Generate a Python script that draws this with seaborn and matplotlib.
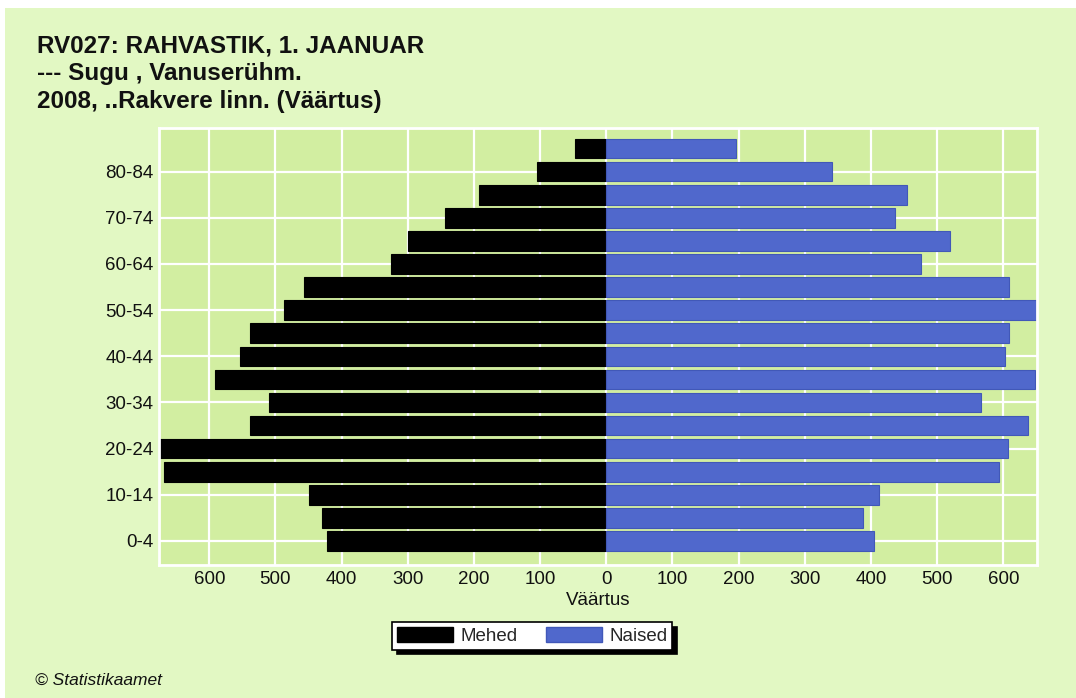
import pandas as pd
import matplotlib.pyplot as plt
from matplotlib.patches import Rectangle, Patch
import seaborn as sns

# --- andmed (loetud pildilt) ---
vanuserühmad = ['0-4', '5-9', '10-14', '15-19', '20-24', '25-29', '30-34', '35-39',
                '40-44', '45-49', '50-54', '55-59', '60-64', '65-69', '70-74',
                '75-79', '80-84', '85+']
mehed = [422, 430, 449, 668, 676, 539, 509, 591, 553, 539, 487, 457, 326, 299,
         244, 192, 104, 47]
naised = [405, 388, 412, 593, 607, 637, 566, 648, 602, 609, 651, 609, 475, 519,
          437, 454, 341, 196]
sildid = ['0-4', '10-14', '20-24', '30-34', '40-44', '50-54', '60-64', '70-74', '80-84']
x_tikid = [-600, -500, -400, -300, -200, -100, 0, 100, 200, 300, 400, 500, 600]

pealkiri = "RV027: RAHVASTIK, 1. JAANUAR\n--- Sugu , Vanuserühm.\n2008, ..Rakvere linn. (Väärtus)"

VARV_TAUST = '#e2f8c3'
VARV_ALA = '#d2eea1'
VARV_MEHED = '#000000'
VARV_NAISED = '#5068cc'

df = pd.DataFrame({
    'vanus': vanuserühmad * 2,
    'sugu': ['Mehed'] * len(mehed) + ['Naised'] * len(naised),
    'väärtus': [-v for v in mehed] + naised,
})

sns.set_theme(style="white")
plt.rcParams['font.family'] = ['Liberation Sans', 'DejaVu Sans']

fig = plt.figure(figsize=(10.76, 6.98), dpi=100, facecolor='white')
# heleroheline paneel
fig.patches.append(Rectangle((5 / 1076, 0), 1, 1 - 8 / 698, transform=fig.transFigure,
                             facecolor=VARV_TAUST, edgecolor='none', zorder=-10))

ax = fig.add_axes([159 / 1076, 1 - 565 / 698, (1037 - 159) / 1076, (565 - 128) / 698])
ax.set_facecolor(VARV_ALA)

jarjekord = vanuserühmad[::-1]  # 85+ üleval
sns.barplot(data=df, x='väärtus', y='vanus', hue='sugu', order=jarjekord,
            hue_order=['Mehed', 'Naised'],
            palette={'Mehed': VARV_MEHED, 'Naised': VARV_NAISED}, saturation=1,
            dodge=False, width=0.85, orient='h', errorbar=None, legend=False, ax=ax)

servad = {0: '#000000', 1: '#4158b8'}
for i, cont in enumerate(ax.containers):
    for bar in cont:
        bar.set_edgecolor(servad[i])
        bar.set_linewidth(0.8)

n = len(vanuserühmad)
ax.set_ylim(n - 1 + 1.04, -0.89)
ax.set_xlim(-max(mehed), max(naised))

ax.set_yticks([jarjekord.index(s) for s in sildid])
ax.set_yticklabels(sildid)
ax.set_xticks(x_tikid)
ax.set_xticklabels([str(abs(v)) for v in x_tikid])
ax.tick_params(axis='both', labelsize=13.5, length=0, pad=4, colors='#111111')

ax.grid(True, color='white', linewidth=1.6)
ax.set_axisbelow(True)
for s in ax.spines.values():
    s.set_color('white')
    s.set_linewidth(2)

ax.set_ylabel('')
ax.set_xlabel('Väärtus', fontsize=13.5, color='#111111', labelpad=3)

fig.text(37 / 1076, 1 - 34 / 698, pealkiri, fontsize=17.5, fontweight='bold',
         va='top', ha='left', linespacing=1.27, color='#111111')

kasitsejad = [Patch(facecolor=VARV_MEHED, edgecolor='#000000', label='Mehed'),
              Patch(facecolor=VARV_NAISED, edgecolor='#4158b8', label='Naised')]
leg = fig.legend(handles=kasitsejad, loc='center', ncol=2,
                 bbox_to_anchor=(532 / 1076, 1 - 636 / 698), fontsize=13.5,
                 frameon=True, fancybox=False, edgecolor='black', facecolor='white',
                 framealpha=1, handlelength=3.0, handleheight=0.8, handletextpad=0.4,
                 columnspacing=1.5, borderpad=0.25,
                 shadow={'ox': 3.5, 'oy': -3.5, 'facecolor': 'black',
                         'edgecolor': 'black', 'alpha': 1})
leg.get_frame().set_linewidth(1.2)

fig.text(35 / 1076, 1 - 680 / 698, '© Statistikaamet', fontsize=12.5, style='italic',
         va='center', ha='left', color='#111111')

fig.savefig('out.png', dpi=100, facecolor=fig.get_facecolor())
